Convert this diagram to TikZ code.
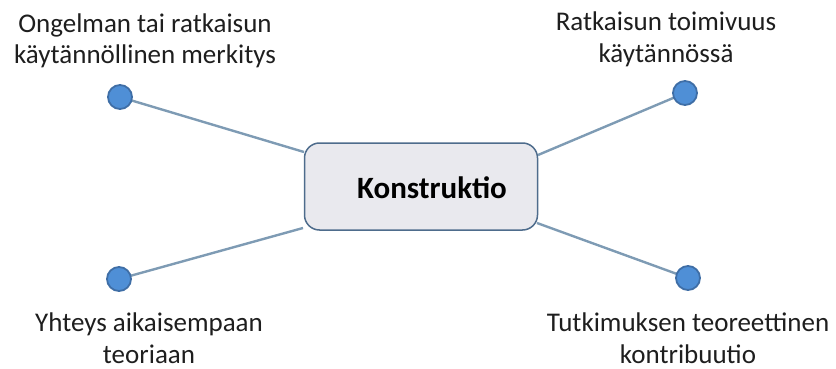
\documentclass[tikz,border=0pt]{standalone}
\usepackage{fontspec}
\setmainfont{Carlito}
\begin{document}
\begin{tikzpicture}[x=1pt,y=-1pt,
  hub/.style={draw=boxedge,line width=1.5pt,fill=boxfill,rounded corners=15pt,
    minimum width=233pt,minimum height=87pt,inner sep=0pt},
  hubtext/.style={font=\bfseries\fontsize{31}{36}\selectfont,text=black,inner sep=0pt,anchor=base},
  leaf/.style={circle,draw=dotedge,line width=1.8pt,fill=dotfill,minimum size=24pt,inner sep=0pt},
  spoke/.style={draw=linecol,line width=2.4pt},
  caption/.style={align=center,font=\fontsize{27}{32}\selectfont,text=textcol,inner sep=0pt,anchor=base}]
\definecolor{boxedge}{HTML}{4E6C8C}
\definecolor{boxfill}{HTML}{E9E9EE}
\definecolor{dotedge}{HTML}{3F6EA6}
\definecolor{dotfill}{HTML}{4F8FD6}
\definecolor{linecol}{HTML}{7E9BB4}
\definecolor{textcol}{HTML}{1E1E1E}
\useasboundingbox (0,0) rectangle (836,369);
% central concept
\node[hub] (k) at (421,186.5) {};
\node[hubtext] (kt) at (432,198) {Konstruktio};
% end points of the spokes on the box outline
\coordinate (ktl) at (304,152);
\coordinate (ktr) at (538,155);
\coordinate (kbl) at (303,228);
\coordinate (kbr) at (537,223);
% outer dots
\coordinate (ctl) at (120,97);
\coordinate (ctr) at (685,93);
\coordinate (cbl) at (119,279);
\coordinate (cbr) at (688,278);
% spokes, then the dots on top of them
\draw[spoke] (ctl) -- (ktl);
\draw[spoke] (ctr) -- (ktr);
\draw[spoke] (cbl) -- (kbl);
\draw[spoke] (cbr) -- (kbr);
\node[leaf] (tl) at (ctl) {};
\node[leaf] (tr) at (ctr) {};
\node[leaf] (bl) at (cbl) {};
\node[leaf] (br) at (cbr) {};
% captions (anchored at the baseline of their last line)
\node[caption] (ttl) at (145,64) {Ongelman tai ratkaisun\\käytännöllinen merkitys};
\node[caption] (ttr) at (666,63) {Ratkaisun toimivuus\\käytännössä};
\node[caption] (tbl) at (149,363) {Yhteys aikaisempaan\\teoriaan};
\node[caption] (tbr) at (688,363) {Tutkimuksen teoreettinen\\kontribuutio};
\end{tikzpicture}
\end{document}
